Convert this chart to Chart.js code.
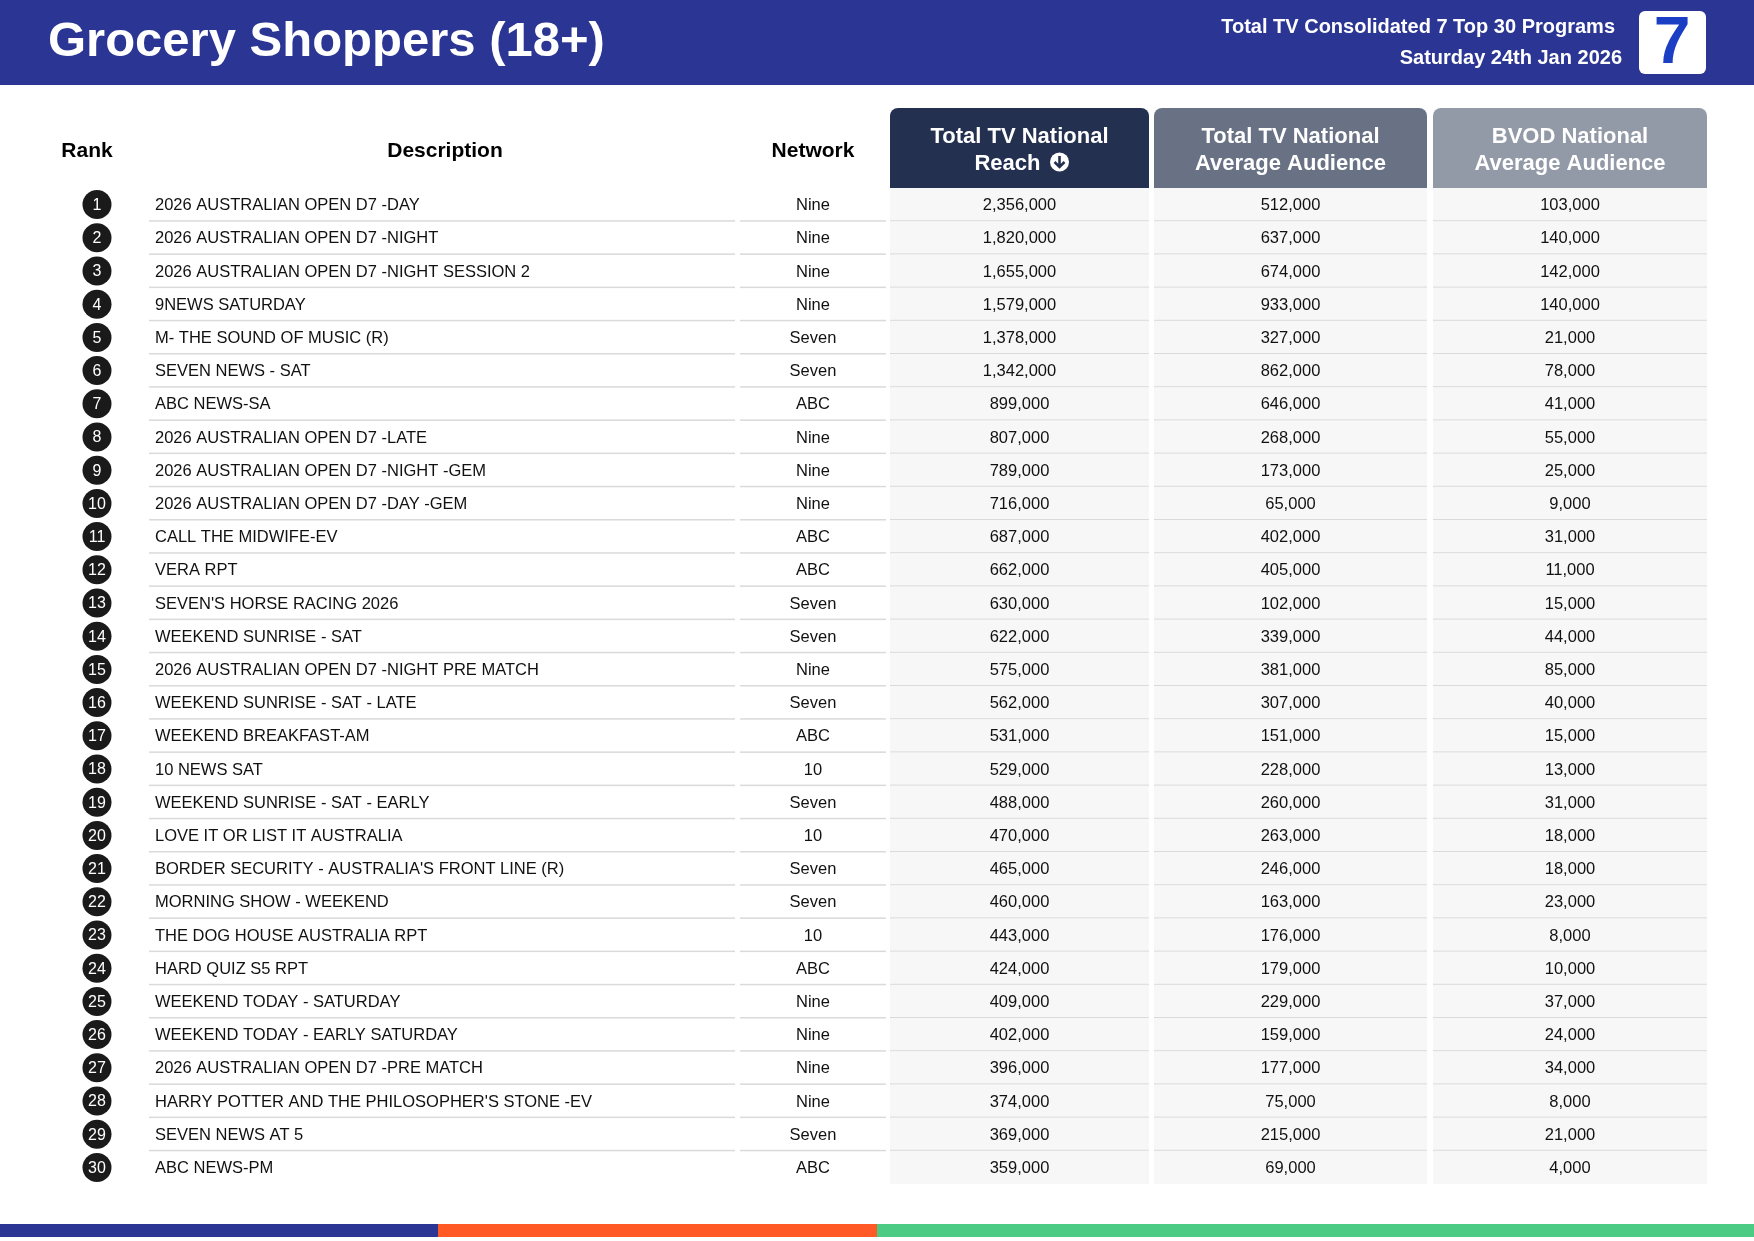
<!DOCTYPE html>
<html><head><meta charset="utf-8">
<script src="https://cdn.jsdelivr.net/npm/chart.js@4"></script>
<style>html,body{margin:0;padding:0;background:#fff;overflow:hidden}</style>
</head><body>
<canvas id="c" width="1754" height="1241"></canvas>
<script>
const ranks=[1,2,3,4,5,6,7,8,9,10,11,12,13,14,15,16,17,18,19,20,21,22,23,24,25,26,27,28,29,30];
const descriptions=["2026 AUSTRALIAN OPEN D7 -DAY","2026 AUSTRALIAN OPEN D7 -NIGHT","2026 AUSTRALIAN OPEN D7 -NIGHT SESSION 2","9NEWS SATURDAY","M- THE SOUND OF MUSIC (R)","SEVEN NEWS - SAT","ABC NEWS-SA","2026 AUSTRALIAN OPEN D7 -LATE","2026 AUSTRALIAN OPEN D7 -NIGHT -GEM","2026 AUSTRALIAN OPEN D7 -DAY -GEM","CALL THE MIDWIFE-EV","VERA RPT","SEVEN'S HORSE RACING 2026","WEEKEND SUNRISE - SAT","2026 AUSTRALIAN OPEN D7 -NIGHT PRE MATCH","WEEKEND SUNRISE - SAT - LATE","WEEKEND BREAKFAST-AM","10 NEWS SAT","WEEKEND SUNRISE - SAT - EARLY","LOVE IT OR LIST IT AUSTRALIA","BORDER SECURITY - AUSTRALIA'S FRONT LINE (R)","MORNING SHOW - WEEKEND","THE DOG HOUSE AUSTRALIA RPT","HARD QUIZ S5 RPT","WEEKEND TODAY - SATURDAY","WEEKEND TODAY - EARLY SATURDAY","2026 AUSTRALIAN OPEN D7 -PRE MATCH","HARRY POTTER AND THE PHILOSOPHER'S STONE -EV","SEVEN NEWS AT 5","ABC NEWS-PM"];
const networks=["Nine","Nine","Nine","Nine","Seven","Seven","ABC","Nine","Nine","Nine","ABC","ABC","Seven","Seven","Nine","Seven","ABC","10","Seven","10","Seven","Seven","10","ABC","Nine","Nine","Nine","Nine","Seven","ABC"];
const reach=[2356000,1820000,1655000,1579000,1378000,1342000,899000,807000,789000,716000,687000,662000,630000,622000,575000,562000,531000,529000,488000,470000,465000,460000,443000,424000,409000,402000,396000,374000,369000,359000];
const avgAud=[512000,637000,674000,933000,327000,862000,646000,268000,173000,65000,402000,405000,102000,339000,381000,307000,151000,228000,260000,263000,246000,163000,176000,179000,229000,159000,177000,75000,215000,69000];
const bvod=[103000,140000,142000,140000,21000,78000,41000,55000,25000,9000,31000,11000,15000,44000,85000,40000,15000,13000,31000,18000,18000,23000,8000,10000,37000,24000,34000,8000,21000,4000];
const columnHeaders=[["Total TV National","Reach"],["Total TV National","Average Audience"],["BVOD National","Average Audience"]];
const title="Grocery Shoppers (18+)";
const sub1="Total TV Consolidated 7 Top 30 Programs", sub2="Saturday 24th Jan 2026";

const F='"Liberation Sans", Arial, sans-serif';
const fmt=v=>v.toLocaleString('en-US');
const cols=[[890,1149],[1154,1427],[1433,1707]];
function rr(ctx,x,y,w,h,r){ctx.beginPath();ctx.moveTo(x,y+h);ctx.lineTo(x,y+r);ctx.arcTo(x,y,x+r,y,r);ctx.lineTo(x+w-r,y);ctx.arcTo(x+w,y,x+w,y+r,r);ctx.lineTo(x+w,y+h);ctx.closePath();}
const tablePlugin={id:'tbl',
beforeDatasetsDraw(ch){
 const ctx=ch.ctx,y=ch.scales.y;ctx.save();
 ctx.fillStyle='#2B3593';ctx.fillRect(0,0,1754,85);
 ctx.fillStyle='#fff';ctx.font='bold 49px '+F;ctx.textBaseline='middle';ctx.textAlign='left';
 ctx.fillText(title,48,42);
 ctx.font='bold 20px '+F;ctx.textAlign='right';
 ctx.fillText(sub1,1615,27);ctx.fillText(sub2,1622,58);
 ctx.beginPath();ctx.roundRect(1639,11,67,63,6);ctx.fillStyle='#fff';ctx.fill();
 ctx.fillStyle='#1A3FC4';ctx.font='bold 66px '+F;ctx.textAlign='center';ctx.fillText('7',1672,45);
 ctx.fillStyle='#2B3593';ctx.fillRect(0,1224,438,13);
 ctx.fillStyle='#FF5A26';ctx.fillRect(438,1224,439,13);
 ctx.fillStyle='#4CCB85';ctx.fillRect(877,1224,877,13);
 const hc=['#243050','#697285','#939AA7'];
 cols.forEach((c,i)=>{rr(ctx,c[0],108,c[1]-c[0],80,8);ctx.fillStyle=hc[i];ctx.fill();
  ctx.fillStyle='#fff';ctx.font='bold 22px '+F;ctx.textAlign='center';
  const cx=(c[0]+c[1])/2;ctx.fillText(columnHeaders[i][0],cx,137);
  if(i===0){const w=ctx.measureText('Reach').width;ctx.fillText('Reach',cx-12,164);
   const ax=cx-12+w/2+19;ctx.beginPath();ctx.arc(ax,162,9.5,0,7);ctx.fill();
   ctx.strokeStyle=hc[0];ctx.lineWidth=2.6;ctx.beginPath();ctx.moveTo(ax,156);ctx.lineTo(ax,167);ctx.moveTo(ax-5,162);ctx.lineTo(ax,167);ctx.lineTo(ax+5,162);ctx.stroke();}
  else ctx.fillText(columnHeaders[i][1],cx,164);});
 ctx.fillStyle='#000';ctx.font='bold 21px '+F;
 ctx.fillText('Rank',87,151);ctx.fillText('Description',445,151);ctx.fillText('Network',813,151);
 ranks.forEach((r,i)=>{const t=y.getPixelForValue(r-0.5),b=y.getPixelForValue(r+0.5);
  ctx.fillStyle='#F7F7F7';cols.forEach(c=>ctx.fillRect(c[0],t,c[1]-c[0],b-t));
  if(i<ranks.length-1){ctx.fillStyle='#DADADA';
   [[149,735],[740,886]].concat(cols).forEach(c=>ctx.fillRect(c[0],b-1,c[1]-c[0],1.5));}
 });
 ctx.restore();},
afterDatasetsDraw(ch){
 const ctx=ch.ctx,y=ch.scales.y,x=ch.scales.x;ctx.save();ctx.textBaseline='middle';
 ranks.forEach((r,i)=>{const py=y.getPixelForValue(r);
  ctx.fillStyle='#fff';ctx.font='16px '+F;ctx.textAlign='center';ctx.fillText(String(r),x.getPixelForValue(97),py+1);
  ctx.fillStyle='#111';ctx.font='16.5px '+F;ctx.textAlign='left';ctx.fillText(descriptions[i],155,py+1);
  ctx.textAlign='center';ctx.fillText(networks[i],813,py+1);
  ctx.fillText(fmt(reach[i]),1019.5,py+1);ctx.fillText(fmt(avgAud[i]),1290.5,py+1);ctx.fillText(fmt(bvod[i]),1570,py+1);
 });ctx.restore();}
};
new Chart(document.getElementById('c'),{type:'scatter',
 data:{datasets:[{data:ranks.map(r=>({x:97,y:r})),pointRadius:14.5,pointHoverRadius:14.5,backgroundColor:'#1a1a1a',borderWidth:0,clip:false}]},
 options:{responsive:false,animation:false,events:[],
  layout:{autoPadding:false,padding:{top:188,bottom:57,left:0,right:0}},
  plugins:{legend:{display:false},tooltip:{enabled:false}},
  scales:{x:{type:'linear',min:0,max:1754,display:false},y:{type:'linear',min:0.5,max:30.5,reverse:true,display:false}}},
 plugins:[tablePlugin]});
</script></body></html>
